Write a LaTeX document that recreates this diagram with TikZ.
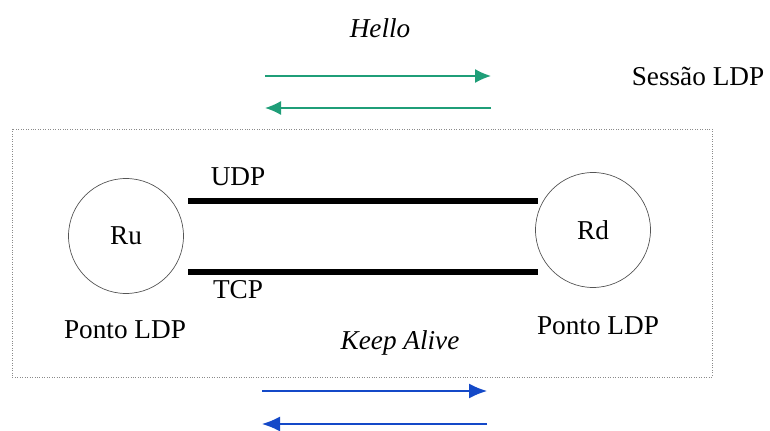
\documentclass[tikz,border=0pt]{standalone}
\usepackage{fontspec}
\setmainfont{Liberation Serif}
\usepackage{tikz}
\usetikzlibrary{
  arrows.meta,
  positioning,
  calc
}
\definecolor{ldpHello}{HTML}{1F9E78}
\definecolor{ldpKeep}{HTML}{1449C8}
\definecolor{ldpGrid}{HTML}{8A8A8A}
\definecolor{ldpRing}{HTML}{555555}
\tikzset{
  router/.style={
    draw=ldpRing, circle, thin, minimum size=2.3cm, inner sep=0pt,
    font=\fontsize{15.5}{18}\selectfont
  },
  lbl/.style={font=\fontsize{15.5}{18}\selectfont, inner sep=1pt},
  msg/.style={lbl, font=\fontsize{15.5}{18}\selectfont\itshape},
  session/.style={draw=ldpGrid, densely dotted, thin},
  link/.style={line width=1.1mm, black},
  hello/.style={-{Latex[length=3.2mm, width=2.8mm]}, thick, ldpHello},
  keep/.style={-{Latex[length=3.6mm, width=3mm]}, thick, ldpKeep}
}

\begin{document}
\begin{tikzpicture}[x=0.02cm, y=-0.02cm, node distance=4mm]
  \useasboundingbox (0,0) rectangle (770,431);
  % LDP session frame
  \draw[session] (12,129) rectangle (712,377);
  % peers
  \node[router] (ru) at (126,236) {Ru};
  \node[router] (rd) at (593,230) {Rd};
  \node[lbl] (pu) at (125,330) {Ponto LDP};
  \node[lbl] (pd) at (598,326) {Ponto LDP};
  % transport links
  \coordinate (udpa) at (188,201);
  \coordinate (udpb) at (538,201);
  \coordinate (tcpa) at (188,272);
  \coordinate (tcpb) at (538,272);
  \draw[link] (udpa) -- (udpb);
  \draw[link] (tcpa) -- (tcpb);
  \node[lbl] (udp) at (238,177) {UDP};
  \node[lbl] (tcp) at (238,290) {TCP};
  % hello exchange
  \node[msg] (hello) at (380,28) {Hello};
  \node[lbl] (sess) at (698,76) {Sessão LDP};
  \coordinate (ha) at (265,76);
  \coordinate (hb) at (491,76);
  \coordinate (hc) at (265,108);
  \coordinate (hd) at (491,108);
  \draw[hello] (ha) -- (hb);
  \draw[hello] (hd) -- (hc);
  % keep alive exchange
  \node[msg] (keepalive) at (400,343) {Keep Alive};
  \coordinate (ka) at (262,391);
  \coordinate (kb) at (487,391);
  \coordinate (kc) at (262,424);
  \coordinate (kd) at (487,424);
  \draw[keep] (ka) -- (kb);
  \draw[keep] (kd) -- (kc);
\end{tikzpicture}
\end{document}
